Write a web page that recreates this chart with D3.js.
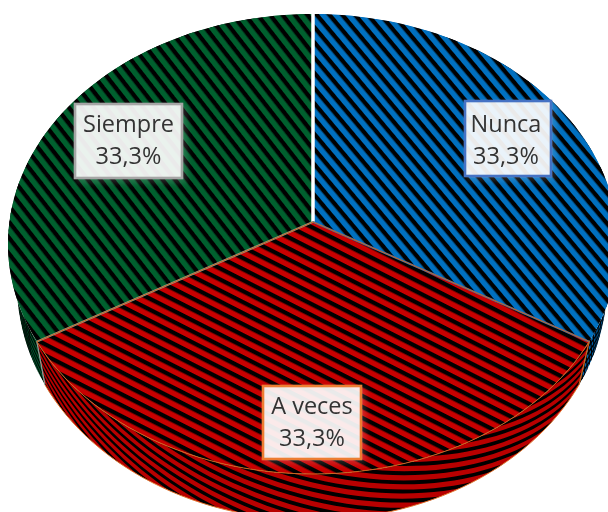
<!DOCTYPE html>
<html>
<head>
<meta charset="utf-8">
<script src="https://cdn.jsdelivr.net/npm/d3@7"></script>
<style>
  html, body { margin: 0; padding: 0; background: #fff; overflow: hidden; }
  .lbl { font-family: "Open Sans", sans-serif; font-size: 23.5px; fill: #333; text-anchor: middle; }
</style>
</head>
<body>
<svg id="chart" width="608" height="512"></svg>
<script>
const categories = ["Nunca", "A veces", "Siempre"];
const values = [33.3, 33.3, 33.3];
const labels = ["33,3%", "33,3%", "33,3%"];
const colors = ["#0070c0", "#c80000", "#00602f"];
const wallColors = ["#0062a8", "#b80000", "#00502a"];
const boxColors = ["#4472c4", "#ed7d31", "#a5a5a5"];
const stripeAngles = [50, 27, 52];

const svg = d3.select("#chart");
const defs = svg.append("defs");

// top face ellipse and the wall's lower ellipse
const topX = d3.scaleLinear().domain([-1, 1]).range([8, 618]);
const topY = d3.scaleLinear().domain([-1, 1]).range([14, 474]);
const botX = d3.scaleLinear().domain([-1, 1]).range([17, 607]);
const botY = d3.scaleLinear().domain([-1, 1]).range([50, 520]);
const tilt = 0.096; // moves the pie centre up inside the ellipse

function unit(a) {
  const x = Math.sin(a), y = -Math.cos(a), d = 1 - tilt * y;
  return [x * Math.sqrt(1 - tilt * tilt) / d, (y - tilt) / d];
}
const onTop = a => { const p = unit(a); return [topX(p[0]), topY(p[1])]; };
const onBot = a => { const p = unit(a); return [botX(p[0]), botY(p[1])]; };

const pie = d3.pie().sort(null).value(d => d);
const slices = pie(values);
const line = d3.line();
const apex = [topX(0), topY(-tilt)];
const sweep = s => d3.range(0, 61).map(k => s.startAngle + (s.endAngle - s.startAngle) * k / 60);

defs.append("filter").attr("id", "soft")
  .append("feGaussianBlur").attr("stdDeviation", 0.55);

slices.forEach((s, i) => {
  defs.append("pattern")
    .attr("id", "st" + i)
    .attr("patternUnits", "userSpaceOnUse")
    .attr("width", 9.8).attr("height", 9.8)
    .attr("patternTransform", `rotate(${stripeAngles[i]})`)
    .call(p => {
      p.append("rect").attr("width", 9.8).attr("height", 9.8).attr("fill", colors[i]);
      p.append("rect").attr("width", 9.8).attr("height", 4.3).attr("fill", "#000");
    });
});

const pieG = svg.append("g").attr("filter", "url(#soft)");

// walls, with stripes wound round them
const wall = pieG.append("g");
slices.forEach((s, i) => {
  const ts = sweep(s);
  const shape = ts.map(onTop).concat(ts.slice().reverse().map(onBot));
  defs.append("clipPath").attr("id", "wc" + i)
    .append("path").attr("d", line(shape) + "Z");
  const g = wall.append("g").attr("clip-path", `url(#wc${i})`);
  g.append("path").attr("d", line(shape) + "Z").attr("fill", wallColors[i]);
  for (let h = -4.5; h < 5; h += 0.2) {
    const band = [];
    const back = [];
    ts.forEach(t => {
      const lo = h - (t - Math.PI) * 1.7;
      const hi = lo + 0.085;
      const a = onTop(t), b = onBot(t);
      band.push([a[0] + (b[0] - a[0]) * lo, a[1] + (b[1] - a[1]) * lo]);
      back.push([a[0] + (b[0] - a[0]) * hi, a[1] + (b[1] - a[1]) * hi]);
    });
    g.append("path").attr("d", line(band.concat(back.reverse())) + "Z").attr("fill", "#000");
  }
  if (i === 1) {
    pieG.append("path").attr("d", line(ts.slice().reverse().map(onBot)))
      .attr("stroke", "#e0702a").attr("stroke-width", 1).attr("fill", "none");
  }
});

// top face
slices.forEach((s, i) => {
  const shape = [apex].concat(sweep(s).map(onTop));
  pieG.append("path").attr("d", line(shape) + "Z").attr("fill", `url(#st${i})`);
});

// wall seams
[[slices[1].startAngle, "#c8641e"], [slices[2].startAngle, "#8a9a90"]].forEach(([a, col]) => {
  pieG.append("path").attr("d", line([onTop(a), onBot(a)]))
    .attr("stroke", col).attr("stroke-width", 1.3).attr("fill", "none");
});

// slice edges on the top face
pieG.append("path").attr("d", line([apex, onTop(slices[0].startAngle)]))
  .attr("stroke", "#fff").attr("stroke-width", 3.5).attr("fill", "none");
pieG.append("path").attr("d", line([apex, onTop(slices[2].startAngle)]))
  .attr("stroke", "#8a9a90").attr("stroke-width", 2).attr("fill", "none");
pieG.append("path").attr("d", line([apex, onTop(slices[1].startAngle)]))
  .attr("stroke", "#2f6fb5").attr("stroke-width", 2).attr("fill", "none");
pieG.append("path")
  .attr("d", line([apex].concat(sweep(slices[1]).map(onTop))) + "Z")
  .attr("stroke", "#c8641e").attr("stroke-width", 1).attr("fill", "none");

// labels
const boxes = [[465, 101, 86, 75], [263, 386, 98, 73], [75, 104, 107, 74]];
const firstLine = [31, 28, 28];
const textShift = [-2, 0, 0];
defs.append("filter").attr("id", "glow").attr("x", "-20%").attr("y", "-20%").attr("width", "150%").attr("height", "150%")
  .append("feDropShadow").attr("dx", 3).attr("dy", 3).attr("stdDeviation", 3).attr("flood-color", "#fff").attr("flood-opacity", 0.18);
categories.forEach((c, i) => {
  const b = boxes[i];
  const tx = b[0] + b[2] / 2 + textShift[i];
  svg.append("rect").attr("x", b[0]).attr("y", b[1]).attr("width", b[2]).attr("height", b[3])
    .attr("fill", "#fff").attr("fill-opacity", 0.9)
    .attr("stroke", boxColors[i]).attr("stroke-width", 2.6).attr("filter", "url(#glow)");
  svg.append("text").attr("class", "lbl").attr("x", tx).attr("y", b[1] + firstLine[i]).text(c);
  svg.append("text").attr("class", "lbl").attr("x", tx).attr("y", b[1] + firstLine[i] + 32).text(labels[i]);
});
</script>
</body>
</html>
